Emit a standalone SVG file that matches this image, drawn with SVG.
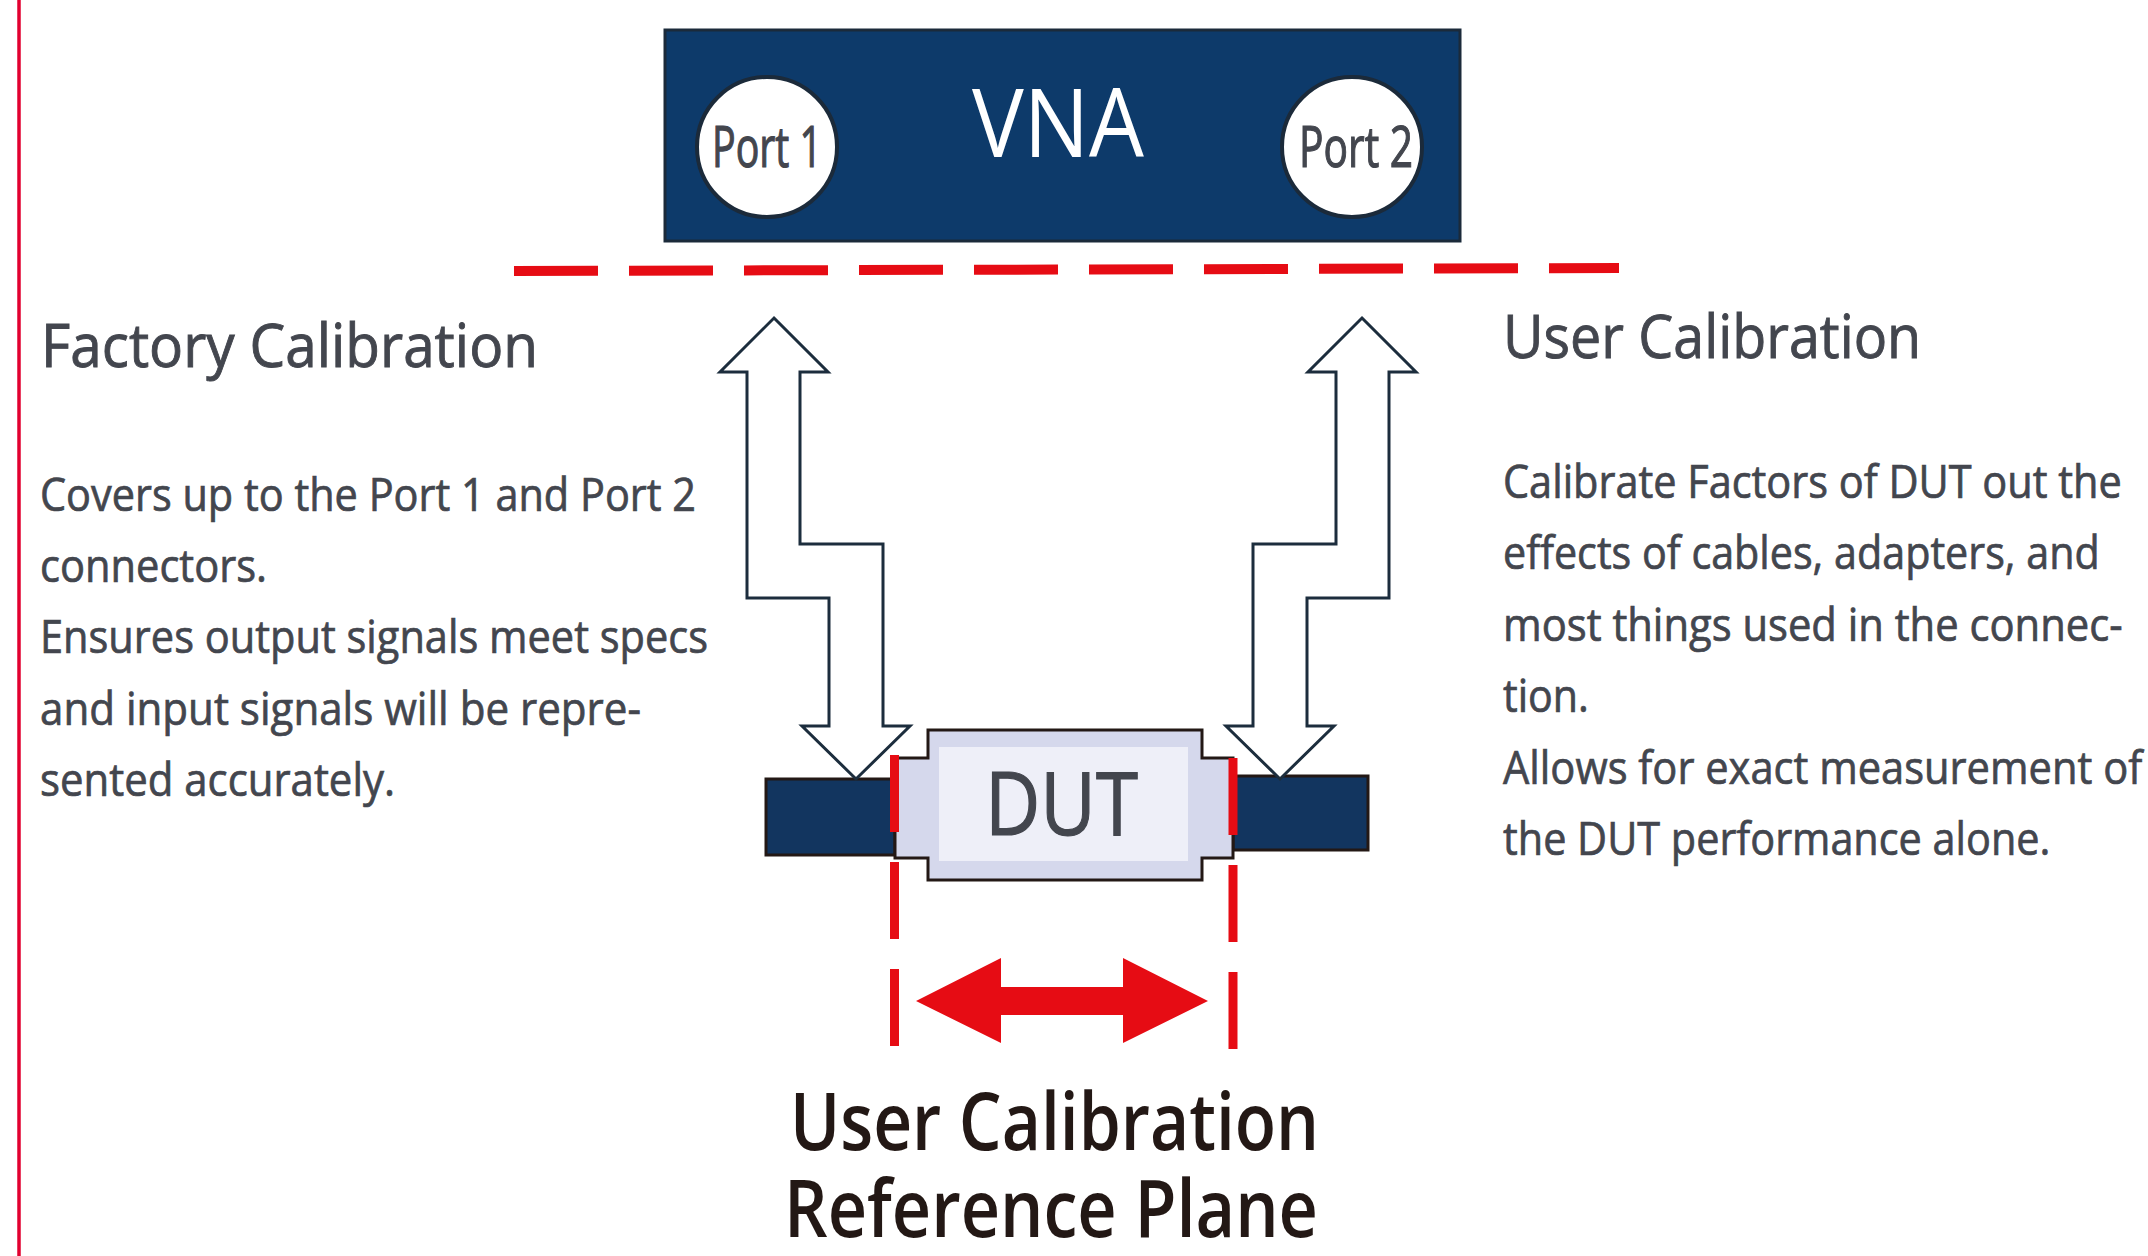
<svg xmlns="http://www.w3.org/2000/svg" width="2148" height="1256" viewBox="0 0 2148 1256">
<style>
.t{font-family:"Open Sans","Noto Sans","Liberation Sans",sans-serif;fill:#43464e;stroke:#43464e;stroke-width:0.7}
.h{font-size:60px;stroke-width:0.9}
.b{font-size:45px}
.port{font-size:57px;stroke-width:1.2}
.arrow{fill:#ffffff;stroke:#1c2d3d;stroke-width:3;stroke-linejoin:miter}
.bar{fill:#12355f;stroke:#231815;stroke-width:3}
.red{stroke:#e60c14;fill:none}
</style>
<rect x="0" y="0" width="2148" height="1256" fill="#ffffff"/>
<line x1="19" y1="0" x2="19" y2="1256" stroke="#e2002f" stroke-width="3.5"/>

<g id="vna">
<rect x="665" y="30" width="795" height="211" fill="#0d3a6a" stroke="#1b2a3a" stroke-width="3"/>
<text class="t" x="972" y="157" font-size="95" style="fill:#ffffff;stroke:none" textLength="172" lengthAdjust="spacingAndGlyphs">VNA</text>
</g>
<g id="port1">
<circle cx="767" cy="147" r="70" fill="#ffffff" stroke="#1b2a3a" stroke-width="4"/>
<text class="t port" x="712" y="167" textLength="110" lengthAdjust="spacingAndGlyphs">Port 1</text>
</g>
<g id="port2">
<circle cx="1352" cy="147" r="70" fill="#ffffff" stroke="#1b2a3a" stroke-width="4"/>
<text class="t port" x="1299" y="167" textLength="114" lengthAdjust="spacingAndGlyphs">Port 2</text>
</g>

<g id="factory-plane">
<line x1="514" y1="271" x2="1619" y2="268" class="red" stroke-width="10" stroke-dasharray="84 31"/>
</g>

<g id="factory-text">
<text class="t h" x="41" y="367" textLength="497" lengthAdjust="spacingAndGlyphs">Factory Calibration</text>
<text class="t b" x="40" y="511" textLength="656" lengthAdjust="spacingAndGlyphs">Covers up to the Port 1 and Port 2</text>
<text class="t b" x="40" y="582" textLength="227" lengthAdjust="spacingAndGlyphs">connectors.</text>
<text class="t b" x="40" y="653" textLength="668" lengthAdjust="spacingAndGlyphs">Ensures output signals meet specs</text>
<text class="t b" x="40" y="725" textLength="601" lengthAdjust="spacingAndGlyphs">and input signals will be repre-</text>
<text class="t b" x="40" y="796" textLength="355" lengthAdjust="spacingAndGlyphs">sented accurately.</text>
</g>

<g id="user-text" transform="translate(1503,0) scale(0.85,1)">
<text class="t h" x="0" y="358" textLength="492" lengthAdjust="spacingAndGlyphs">User Calibration</text>
<text class="t b" x="0" y="498" textLength="728" lengthAdjust="spacingAndGlyphs">Calibrate Factors of DUT out the</text>
<text class="t b" x="0" y="569" textLength="702" lengthAdjust="spacingAndGlyphs">effects of cables, adapters, and</text>
<text class="t b" x="0" y="641" textLength="729" lengthAdjust="spacingAndGlyphs">most things used in the connec-</text>
<text class="t b" x="0" y="712" textLength="101" lengthAdjust="spacingAndGlyphs">tion.</text>
<text class="t b" x="0" y="784" textLength="752" lengthAdjust="spacingAndGlyphs">Allows for exact measurement of</text>
<text class="t b" x="0" y="855" textLength="644" lengthAdjust="spacingAndGlyphs">the DUT performance alone.</text>
</g>

<g id="cable-left">
<rect class="bar" x="766" y="779" width="129" height="76"/>
</g>
<g id="cable-right">
<rect class="bar" x="1233" y="776" width="135" height="74"/>
</g>

<g id="connectors">
<polygon class="arrow" points="774,318 828,372 800,372 800,544 883,544 883,726 910,726 856,779 802,726 829,726 829,598 747,598 747,372 720,372"/>
<polygon class="arrow" points="1362,318 1416,372 1389,372 1389,598 1307,598 1307,726 1334,726 1280,779 1226,726 1253,726 1253,544 1336,544 1336,372 1308,372"/>
<polygon fill="#e60c14" points="916,1001 1001,958 1001,987 1123,987 1123,958 1208,1001 1123,1043 1123,1015 1001,1015 1001,1043"/>
</g>

<g id="dut">
<path d="M928,730 H1202 V758 H1233 V858 H1202 V880 H928 V858 H895 V758 H928 Z" fill="#d5d8ec" stroke="#231815" stroke-width="3"/>
<rect x="939" y="747" width="249" height="114" fill="#eeeff8"/>
<text class="t" x="985" y="835" font-size="88" style="stroke-width:1.2" textLength="153" lengthAdjust="spacingAndGlyphs">DUT</text>
</g>

<g id="user-plane">
<line x1="894.5" y1="755" x2="894.5" y2="1046" class="red" stroke-width="9" stroke-dasharray="77 30"/>
<line x1="1233" y1="758" x2="1233" y2="1049" class="red" stroke-width="9" stroke-dasharray="77 30"/>
</g>

<g id="plane-label">
<text class="t" x="790" y="1150" font-size="80" font-weight="600" style="fill:#231815;stroke:none" textLength="529" lengthAdjust="spacingAndGlyphs">User Calibration</text>
<text class="t" x="784" y="1237" font-size="80" font-weight="600" style="fill:#231815;stroke:none" textLength="534" lengthAdjust="spacingAndGlyphs">Reference Plane</text>
</g>
</svg>
